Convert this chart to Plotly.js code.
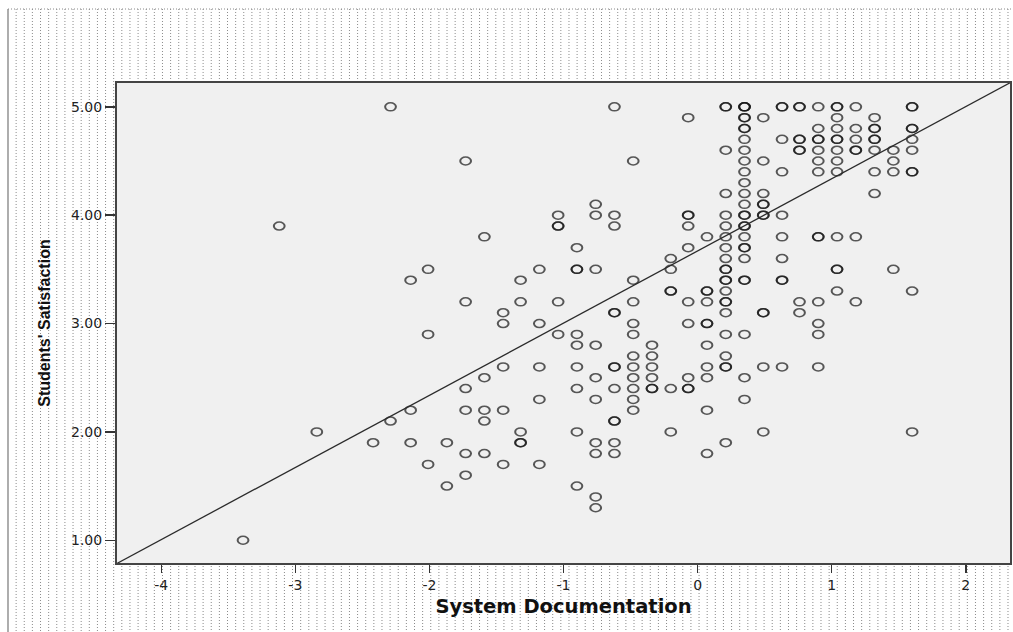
<!DOCTYPE html>
<html>
<head>
<meta charset="utf-8">
<script src="https://cdn.plot.ly/plotly-3.0.1.min.js"></script>
<style>
  html, body { margin: 0; padding: 0; background: #ffffff; }
  #chart { width: 1013px; height: 632px; }
</style>
</head>
<body>
<div id="chart"></div>
<script>
// System Documentation factor scores (one entry per column of respondents)
const docScores = [
  -3.39, -3.12, -2.84, -2.42, -2.29, -2.14, -2.01, -1.87, -1.73, -1.59, -1.45,
  -1.32, -1.18, -1.04, -0.90, -0.76, -0.62, -0.48, -0.34, -0.20, -0.07,
   0.07,  0.21,  0.35,  0.49,  0.63,  0.76,  0.90,  1.04,  1.18,  1.32,  1.46, 1.60
];

// Students' Satisfaction scores of the respondents at each docScore
const satisfactionByScore = [
  [1.0],
  [3.9],
  [2.0],
  [1.9],
  [5.0, 2.1],
  [3.4, 2.2, 1.9],
  [3.5, 2.9, 1.7],
  [1.9, 1.5],
  [4.5, 3.2, 2.4, 2.2, 1.8, 1.6],
  [3.8, 2.5, 2.2, 2.1, 1.8],
  [3.1, 3.0, 2.6, 2.2, 1.7],
  [3.4, 3.2, 2.0, 1.9, 1.9],
  [3.5, 3.0, 2.6, 2.3, 1.7],
  [4.0, 3.9, 3.9, 3.2, 2.9],
  [3.7, 3.5, 3.5, 2.9, 2.8, 2.6, 2.4, 2.0, 1.5],
  [4.1, 4.0, 3.5, 2.8, 2.5, 2.3, 1.9, 1.8, 1.4, 1.3],
  [5.0, 4.0, 3.9, 3.1, 3.1, 2.6, 2.6, 2.4, 2.1, 2.1, 1.9, 1.8],
  [4.5, 3.4, 3.2, 3.0, 2.9, 2.7, 2.6, 2.5, 2.4, 2.3, 2.2],
  [2.8, 2.7, 2.6, 2.5, 2.4, 2.4],
  [3.6, 3.5, 3.3, 3.3, 2.4, 2.0],
  [4.9, 4.0, 4.0, 3.9, 3.7, 3.2, 3.0, 2.5, 2.4, 2.4],
  [3.8, 3.3, 3.3, 3.2, 3.0, 3.0, 2.8, 2.6, 2.5, 2.2, 1.8],
  [5.0, 5.0, 4.6, 4.2, 4.0, 3.9, 3.8, 3.7, 3.6, 3.5, 3.5, 3.4, 3.4, 3.3, 3.2, 3.2, 3.1, 2.9, 2.7, 2.6, 2.6, 1.9],
  [5.0, 5.0, 5.0, 4.9, 4.9, 4.8, 4.8, 4.7, 4.6, 4.5, 4.4, 4.3, 4.2, 4.1, 4.0, 4.0, 3.9, 3.9, 3.8, 3.7, 3.7, 3.6, 3.4, 3.4, 2.9, 2.5, 2.3],
  [4.9, 4.5, 4.2, 4.1, 4.1, 4.0, 4.0, 3.1, 3.1, 2.6, 2.0],
  [5.0, 5.0, 4.7, 4.4, 4.0, 3.8, 3.6, 3.4, 3.4, 2.6],
  [5.0, 5.0, 4.7, 4.7, 4.6, 4.6, 3.2, 3.1],
  [5.0, 4.8, 4.7, 4.7, 4.6, 4.5, 4.4, 3.8, 3.8, 3.2, 3.0, 2.9, 2.6],
  [5.0, 5.0, 4.9, 4.8, 4.7, 4.7, 4.6, 4.5, 4.4, 3.8, 3.5, 3.5, 3.3],
  [5.0, 4.8, 4.7, 4.6, 4.6, 3.8, 3.2],
  [4.9, 4.8, 4.8, 4.7, 4.7, 4.6, 4.4, 4.2],
  [4.6, 4.5, 4.4, 3.5],
  [5.0, 5.0, 4.8, 4.8, 4.7, 4.6, 4.4, 4.4, 3.3, 2.0]
];

// Linear fit line (total)
const fitIntercept = 3.67;
const fitSlope = 0.666;

// Axis ticks
const xTickVals = [-4, -3, -2, -1, 0, 1, 2];
const xTickText = ['-4', '-3', '-2', '-1', '0', '1', '2'];
const yTickVals = [1, 2, 3, 4, 5];
const yTickText = ['1.00', '2.00', '3.00', '4.00', '5.00'];

const xRange = [-4.33, 2.33];
const yRange = [0.79, 5.22];

// Flatten the columns into point lists
const xs = [], ys = [];
docScores.forEach((s, i) => {
  satisfactionByScore[i].forEach(v => { xs.push(s); ys.push(v); });
});

const W = 1013, H = 632;
const M = { l: 117, r: 3, t: 83, b: 69 };
const pw = W - M.l - M.r, ph = H - M.t - M.b;
const toPX = x => (x - M.l) / pw;
const toPY = y => (H - M.b - y) / ph;

// Dotted hatch around the plot area
const frameLeft = 8, frameTop = 9, step = 8.13;
let hatch = '';
for (let x = frameLeft + step; x < W; x += step) {
  const X = toPX(x).toFixed(5);
  if (x > M.l - 1 && x < W - M.r + 1) {
    hatch += `M${X},${toPY(frameTop).toFixed(5)}V${toPY(M.t).toFixed(5)}`;
    hatch += `M${X},${toPY(H - M.b).toFixed(5)}V${toPY(H).toFixed(5)}`;
  } else {
    hatch += `M${X},${toPY(frameTop).toFixed(5)}V${toPY(H).toFixed(5)}`;
  }
}

const shapes = [
  { type: 'path', xref: 'paper', yref: 'paper', path: hatch, layer: 'below',
    line: { color: '#8a8a8a', width: 1, dash: '1px,2px' } },
  { type: 'line', xref: 'paper', yref: 'paper',
    x0: toPX(frameLeft), x1: toPX(frameLeft), y0: toPY(frameTop), y1: toPY(H),
    line: { color: '#777', width: 1.2 }, layer: 'below' },
  { type: 'line', xref: 'paper', yref: 'paper',
    x0: toPX(frameLeft), x1: toPX(W), y0: toPY(frameTop), y1: toPY(frameTop),
    line: { color: '#8a8a8a', width: 1, dash: '1px,2px' }, layer: 'below' }
];

const points = {
  type: 'scatter', mode: 'markers', x: xs, y: ys, cliponaxis: false,
  marker: { symbol: 'circle-open', size: 8, color: 'rgba(20,20,20,0.7)', line: { width: 1.5 } },
  hoverinfo: 'skip', showlegend: false
};

const fitLine = {
  type: 'scatter', mode: 'lines',
  x: xRange, y: xRange.map(v => fitIntercept + fitSlope * v),
  line: { color: '#2b2b2b', width: 1.3 }, hoverinfo: 'skip', showlegend: false
};

const tickFont = { family: 'DejaVu Sans, Liberation Sans, sans-serif', size: 14, color: '#222' };

const layout = {
  width: W, height: H,
  margin: M,
  paper_bgcolor: '#ffffff',
  plot_bgcolor: '#f0f0f0',
  showlegend: false,
  shapes: shapes,
  xaxis: {
    range: xRange, tickmode: 'array', tickvals: xTickVals, ticktext: xTickText,
    ticks: 'outside', ticklen: 8, tickwidth: 1.5, tickcolor: '#333',
    showgrid: false, zeroline: false,
    showline: true, mirror: true, linecolor: '#444', linewidth: 2,
    tickfont: tickFont,
    title: { text: 'System Documentation', standoff: 8,
      font: { family: 'DejaVu Sans, Liberation Sans, sans-serif', size: 19.5, weight: 'bold', color: '#111' } }
  },
  yaxis: {
    range: yRange, tickmode: 'array', tickvals: yTickVals, ticktext: yTickText,
    ticks: 'outside', ticklen: 10, tickwidth: 1.5, tickcolor: '#333',
    showgrid: false, zeroline: false,
    showline: true, mirror: true, linecolor: '#444', linewidth: 2,
    tickfont: tickFont,
    title: { text: "Students' Satisfaction", standoff: 16,
      font: { family: 'Liberation Sans, Arial, sans-serif', size: 16, weight: 'bold', color: '#111' } }
  }
};

Plotly.newPlot('chart', [points, fitLine], layout, { staticPlot: true, displayModeBar: false })
  .then(gd => {
    // Stretch the open circles into the wide ellipses used for the scatter symbols
    const traces = gd.querySelectorAll('.scatterlayer .trace');
    if (traces.length) {
      traces[0].querySelectorAll('path.point').forEach(p => {
        const t = p.getAttribute('transform') || '';
        p.setAttribute('transform', t + ' scale(1.35,1)');
      });
    }
  });
</script>
</body>
</html>
